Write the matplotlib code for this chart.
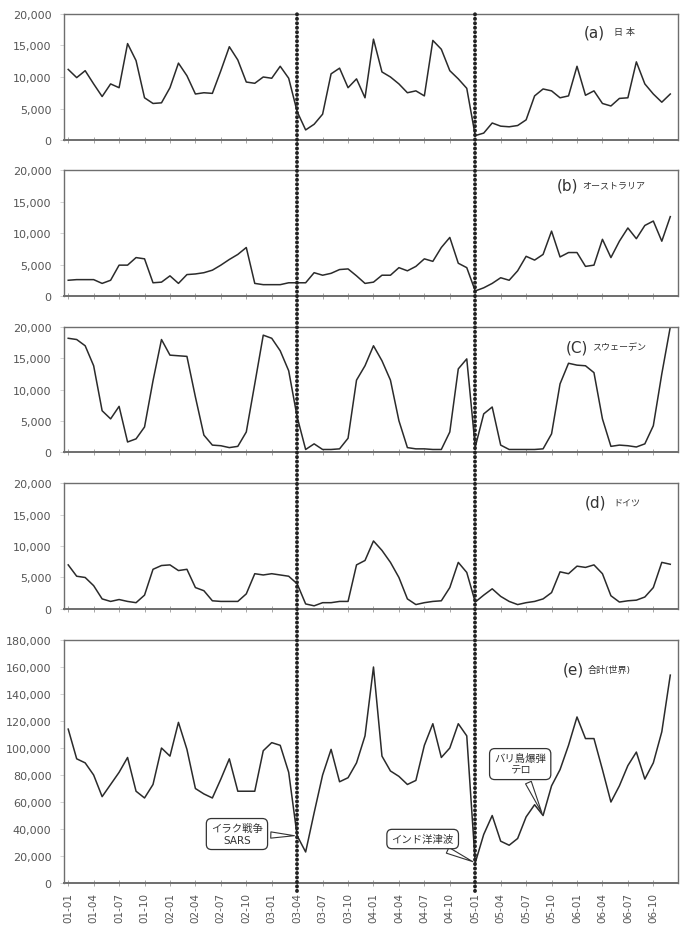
import matplotlib
matplotlib.use("Agg")
import matplotlib.pyplot as plt
from matplotlib.lines import Line2D
from matplotlib.ticker import FuncFormatter
import matplotlib.transforms as mtransforms

plt.rcParams['font.family'] = ['DejaVu Sans', 'Noto Sans CJK JP']

months = [f"{y:02d}-{m:02d}" for y in range(1, 7) for m in range(1, 13)]

japan = [11.2, 9.9, 11.0, 8.9, 6.9, 8.9, 8.3, 15.3, 12.6, 6.7, 5.8, 5.9,
         8.3, 12.2, 10.2, 7.3, 7.5, 7.4, 11.0, 14.8, 12.7, 9.2, 9.0, 10.0,
         9.8, 11.7, 9.8, 4.5, 1.6, 2.5, 4.1, 10.5, 11.4, 8.3, 9.7, 6.7,
         16.0, 10.8, 10.0, 8.9, 7.5, 7.8, 7.0, 15.8, 14.4, 11.0, 9.7, 8.2,
         0.7, 1.1, 2.7, 2.2, 2.1, 2.3, 3.2, 7.0, 8.1, 7.8, 6.7, 7.0,
         11.7, 7.1, 7.8, 5.8, 5.4, 6.6, 6.7, 12.4, 8.9, 7.3, 6.0, 7.3]
australia = [2.5, 2.6, 2.6, 2.6, 2.0, 2.5, 4.9, 4.9, 6.1, 5.9, 2.1, 2.2,
             3.2, 2.0, 3.4, 3.5, 3.7, 4.1, 4.9, 5.8, 6.6, 7.7, 2.0, 1.8,
             1.8, 1.8, 2.1, 2.1, 2.1, 3.7, 3.3, 3.6, 4.2, 4.3, 3.2, 2.0,
             2.2, 3.3, 3.3, 4.5, 4.0, 4.7, 5.9, 5.5, 7.7, 9.3, 5.2, 4.5,
             0.8, 1.3, 2.0, 2.9, 2.5, 4.0, 6.3, 5.7, 6.6, 10.3, 6.2, 6.9,
             6.9, 4.7, 4.9, 9.0, 6.1, 8.7, 10.8, 9.1, 11.2, 11.9, 8.7, 12.6]
sweden = [18.2, 18.0, 17.0, 13.8, 6.6, 5.3, 7.3, 1.6, 2.1, 4.0, 11.4, 18.0,
          15.5, 15.4, 15.3, 8.8, 2.7, 1.1, 1.0, 0.7, 0.9, 3.2, 10.9, 18.7,
          18.2, 16.2, 13.0, 5.6, 0.4, 1.3, 0.4, 0.4, 0.5, 2.2, 11.5, 13.8,
          17.0, 14.6, 11.5, 5.0, 0.7, 0.5, 0.5, 0.4, 0.4, 3.2, 13.3, 14.9,
          0.8, 6.1, 7.2, 1.1, 0.4, 0.4, 0.4, 0.4, 0.5, 2.9, 10.9, 14.2,
          13.9, 13.8, 12.7, 5.3, 0.9, 1.1, 1.0, 0.8, 1.3, 4.2, 12.5, 20.0]
germany = [7.0, 5.2, 5.0, 3.7, 1.6, 1.2, 1.5, 1.2, 1.0, 2.2, 6.3, 6.9,
           7.0, 6.1, 6.3, 3.4, 2.9, 1.3, 1.2, 1.2, 1.2, 2.4, 5.6, 5.4,
           5.6, 5.4, 5.2, 4.0, 0.8, 0.5, 1.0, 1.0, 1.2, 1.2, 7.0, 7.7,
           10.8, 9.3, 7.4, 5.0, 1.6, 0.7, 1.0, 1.2, 1.3, 3.4, 7.4, 5.8,
           1.1, 2.2, 3.2, 2.0, 1.2, 0.7, 1.0, 1.2, 1.6, 2.6, 5.9, 5.6,
           6.8, 6.6, 7.0, 5.6, 2.1, 1.1, 1.3, 1.4, 1.9, 3.4, 7.4, 7.1]
world = [114, 92, 89, 80, 64, 73, 82, 93, 68, 63, 73, 100,
         94, 119, 99, 70, 66, 63, 77, 92, 68, 68, 68, 98,
         104, 102, 82, 35, 23, 52, 80, 99, 75, 78, 89, 109,
         160, 94, 83, 79, 73, 76, 102, 118, 93, 100, 118, 109,
         15, 36, 50, 31, 28, 33, 49, 58, 50, 72, 84, 102,
         123, 107, 107, 84, 60, 72, 87, 97, 77, 89, 112, 154]

panel_labels = ["(a)", "(b)", "(C)", "(d)", "(e)"]
panel_names = ["日 本", "オーストラリア", "スウェーデン", "ドイツ", "合計(世界)"]
event_idx = [27, 48]
events = [("イラク戦争\nSARS", 27), ("インド洋津波", 48), ("バリ島爆弾\nテロ", 56)]

fig = plt.figure(figsize=(6.82, 9.29), dpi=100)

left, right = 0.0938, 0.994
rects = [(0.8482, 0.9839), (0.6803, 0.8159), (0.5124, 0.6469),
         (0.3434, 0.4790), (0.0484, 0.3100)]
series = [[v * 1000 for v in japan], [v * 1000 for v in australia],
          [v * 1000 for v in sweden], [v * 1000 for v in germany],
          [v * 1000 for v in world]]
ymaxs = [20000, 20000, 20000, 20000, 180000]
ysteps = [5000, 5000, 5000, 5000, 20000]
lab_pos = [(0.881, 0.896, 0.857), (0.837, 0.844, 0.881), (0.853, 0.860, 0.84),
           (0.884, 0.894, 0.849), (0.847, 0.853, 0.881)]

x = list(range(len(months)))
spine_col = '#6e6e6e'
txt_col = '#555555'
axes = []
for k in range(5):
    b, t = rects[k]
    ax = fig.add_axes([left, b, right - left, t - b])
    axes.append(ax)
    ax.plot(x, series[k], color='#2b2b2b', lw=1.1, clip_on=True)
    ax.set_xlim(-0.5, 71.9)
    ax.set_ylim(0, ymaxs[k])
    ax.set_yticks(list(range(0, ymaxs[k] + 1, ysteps[k])))
    ax.yaxis.set_major_formatter(FuncFormatter(lambda v, p: f"{int(v):,}"))
    ax.set_xticks(x[::3])
    if k == 4:
        ax.set_xticklabels(months[::3], rotation=90, fontsize=7.5, color=txt_col)
    else:
        ax.set_xticklabels([])
    ax.tick_params(axis='x', direction='inout', length=5, width=0.6, color='#999999', pad=4)
    ax.tick_params(axis='y', direction='out', length=3, width=0.6, color='#cccccc',
                   labelsize=8, labelcolor=txt_col, pad=6)
    for s in ax.spines.values():
        s.set_color(spine_col)
        s.set_linewidth(1.0)
    ax.spines['bottom'].set_linewidth(1.4)
    xr, xl, yy = lab_pos[k]
    ax.text(xr, yy, panel_labels[k], transform=ax.transAxes, ha='right', va='center',
            fontsize=11, color='#333333')
    ax.text(xl, yy, panel_names[k], transform=ax.transAxes, ha='left', va='center',
            fontsize=6.5, color='#333333')

# vertical dotted event lines spanning all panels
blend = mtransforms.blended_transform_factory(axes[4].transData, fig.transFigure)
for ei in event_idx:
    fig.add_artist(Line2D([ei, ei], [0.040, 0.984], transform=blend, color='#222222',
                          lw=2.8, linestyle=(0, (0.05, 1.1)), dash_capstyle='round', zorder=5))

# callouts on the world panel
axw = axes[4]
box_props = dict(boxstyle='round,pad=0.45,rounding_size=0.5', fc='white', ec='#333333', lw=0.9)
text_pos = [(19.9, 36300), (41.8, 32600), (53.3, 88100)]
for (txt, idx), (tx, ty) in zip(events, text_pos):
    axw.annotate(txt, xy=(idx, world[idx] * 1000), xytext=(tx, ty), ha='center', va='center',
                 fontsize=7.5, color='#333333', bbox=box_props, zorder=6,
                 arrowprops=dict(arrowstyle='wedge,tail_width=0.6,shrink_factor=0.5',
                                 fc='white', ec='#333333', lw=0.8))

fig.savefig("out.png", dpi=100)
